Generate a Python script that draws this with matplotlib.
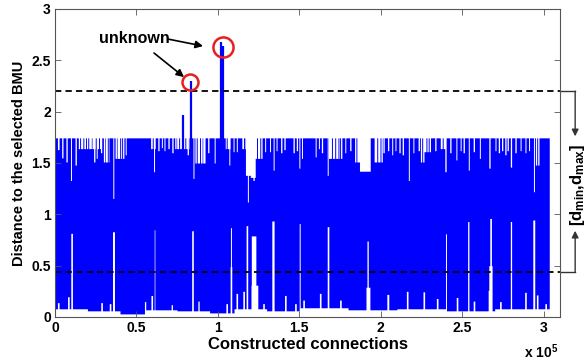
import numpy as np
import matplotlib
matplotlib.use("Agg")
import matplotlib.pyplot as plt
import matplotlib.transforms as mtransforms
from matplotlib.ticker import FormatStrFormatter

plt.rcParams['font.family'] = ['Liberation Sans', 'DejaVu Sans']
plt.rcParams['font.weight'] = 'bold'
plt.rcParams['mathtext.fontset'] = 'custom'
plt.rcParams['mathtext.rm'] = 'Liberation Sans:bold'
plt.rcParams['mathtext.bf'] = 'Liberation Sans:bold'
plt.rcParams['mathtext.it'] = 'Liberation Sans:bold'

# --- values (x in units of 1e5 connections) ---
x_end = 3.035
top_level = 1.745

# stretches where the top of the band sits lower: (x0, x1, level)
plateaus = [(0.143, 0.28, 1.64), (0.297, 0.33, 1.51), (0.369, 0.41, 1.545),
            (0.588, 0.615, 1.64), (0.735, 0.83, 1.64), (0.86, 0.92, 1.50),
            (1.045, 1.075, 1.64), (1.147, 1.167, 1.64), (1.17, 1.20, 1.38),
            (1.20, 1.23, 1.36), (1.23, 1.27, 1.545), (1.68, 1.76, 1.545),
            (1.84, 1.87, 1.51), (1.87, 1.935, 1.42), (1.96, 2.01, 1.51),
            (2.243, 2.265, 1.51), (2.265, 2.305, 1.61), (2.365, 2.395, 1.64),
            (2.95, 2.97, 1.48)]

# thin peaks back up to the top level inside those stretches
top_peaks = [0.154, 0.174, 0.19, 0.205, 0.225, 0.25, 0.27, 0.307, 0.324, 0.379,
             0.4, 0.6, 0.745, 0.762, 0.8, 0.82, 0.87, 0.89, 0.905, 1.055, 1.16,
             1.24, 1.26, 1.7, 1.72, 1.74, 1.75, 1.85, 1.942, 1.977, 1.998,
             2.255, 2.28, 2.295, 2.38, 2.96]

# white notches cut down from the top: (x, lowest value)
notch_x = [0.02, 0.045, 0.072, 0.098, 0.127, 0.242, 0.256, 0.283, 0.358, 0.42,
           0.434, 0.608, 0.635, 0.656, 0.672, 0.697, 0.721, 0.815, 0.85, 0.942,
           0.98, 1.07, 1.096, 1.116, 1.184, 1.219, 1.29, 1.32, 1.342, 1.36,
           1.39, 1.41, 1.465, 1.485, 1.50, 1.516, 1.6, 1.62, 1.64, 1.674,
           1.782, 1.813, 2.018, 2.045, 2.07, 2.09, 2.115, 2.135, 2.172, 2.2,
           2.233, 2.335, 2.397, 2.427, 2.464, 2.49, 2.51, 2.54, 2.571, 2.608,
           2.667, 2.704, 2.725, 2.745, 2.765, 2.78, 2.8, 2.827, 2.858, 2.888,
           2.91, 2.94]
notch_y = [1.63, 1.55, 1.51, 1.33, 1.48, 1.51, 1.545, 1.60, 1.155, 1.545,
           1.58, 1.415, 1.62, 1.65, 1.62, 1.64, 1.60, 1.58, 1.35, 1.60,
           1.50, 1.48, 1.61, 1.61, 1.12, 1.33, 1.61, 1.61, 1.43, 1.62,
           1.60, 1.63, 1.60, 1.62, 1.45, 1.545, 1.56, 1.64, 1.60, 1.38,
           1.60, 1.62, 1.60, 1.62, 1.58, 1.62, 1.60, 1.58, 1.33, 1.60,
           1.62, 1.62, 1.415, 1.60, 1.53, 1.62, 1.60, 1.43, 1.61, 1.545,
           1.45, 1.62, 1.60, 1.62, 1.58, 1.62, 1.46, 1.60, 1.62, 1.60,
           1.62, 1.22]

# bottom of the band
floor_x = [0, 0.2, 0.4, 0.55, 0.75, 0.95, 1.1, 1.3, 1.5, 1.8, 2.1, 2.4, 2.7]
floor_y = [0.08, 0.06, 0.03, 0.07, 0.06, 0.04, 0.08, 0.06, 0.09, 0.07, 0.08, 0.06, 0.08]
bump_x = [0.02, 0.082, 0.287, 0.338, 0.553, 0.594, 0.717, 0.881, 1.055, 1.117,
          1.158, 1.24, 1.28, 1.414, 1.475, 1.526, 1.629, 1.752, 1.926, 2.043,
          2.162, 2.264, 2.346, 2.469, 2.572, 2.664, 2.735, 2.889, 2.961, 3.012]
bump_y = [0.14, 0.197, 0.14, 0.13, 0.15, 0.21, 0.12, 0.155, 0.13, 0.23,
          0.25, 0.31, 0.13, 0.21, 0.13, 0.165, 0.23, 0.165, 0.29, 0.22,
          0.25, 0.245, 0.18, 0.19, 0.155, 0.26, 0.15, 0.24, 0.215, 0.13]

# white gaps rising from the bottom: (x, top value, half width)
gaps = [(0.102, 0.815, 0.005), (0.359, 0.83, 0.006), (0.611, 0.85, 0.003),
        (0.844, 0.84, 0.006), (1.08, 0.87, 0.003), (1.08, 0.49, 0.006),
        (1.178, 0.89, 0.005), (1.219, 0.79, 0.014), (1.222, 0.31, 0.02),
        (1.338, 0.935, 0.007), (1.502, 0.91, 0.004), (1.676, 0.88, 0.005),
        (1.92, 0.74, 0.004), (1.922, 0.29, 0.012), (2.40, 0.81, 0.004),
        (2.537, 0.93, 0.004), (2.674, 0.96, 0.005), (2.674, 0.5, 0.01),
        (2.8, 0.93, 0.004), (2.94, 0.945, 0.006)]

# outliers above the band
outlier_x = [0.787, 0.836, 1.018, 1.03]
outlier_y = [1.97, 2.30, 2.68, 2.64]

d_max = 2.2
d_min = 0.44

# --- band envelopes ---
xs = np.arange(0, x_end + 1e-9, 0.002)
upper = np.full_like(xs, top_level)
for x0, x1, lvl in plateaus:
    upper[(xs >= x0) & (xs <= x1)] = lvl
for px in top_peaks:
    upper[np.abs(xs - px) <= 0.003] = top_level
for nx, ny in zip(notch_x, notch_y):
    m = np.abs(xs - nx) <= 0.004
    upper[m] = np.minimum(upper[m], ny)

lower = np.array(floor_y)[np.searchsorted(floor_x, xs, side='right') - 1]
for bx, by in zip(bump_x, bump_y):
    m = np.abs(xs - bx) <= 0.005
    lower[m] = np.maximum(lower[m], by)
for gx, gy, hw in gaps:
    m = np.abs(xs - gx) <= hw
    lower[m] = np.maximum(lower[m], gy)

fig = plt.figure(figsize=(5.86, 3.63), dpi=100)
ax = fig.add_axes([55 / 586, 46 / 363, 505 / 586, 308 / 363])

blue = '#0000ff'
ax.fill_between(xs, lower, upper, where=upper > lower, step='mid',
                color=blue, linewidth=0)
ax.vlines(outlier_x, 1.6, outlier_y, color=blue, linewidth=1.6)

ax.axhline(d_max, color='k', linestyle=(0, (3.5, 2.3)), linewidth=1.3)
ax.axhline(d_min, color='k', linestyle=(0, (3.5, 2.3)), linewidth=1.3)

ax.set_xlim(0, 3.1)
ax.set_ylim(0, 3)
ax.set_xticks(np.arange(0, 3.01, 0.5))
ax.set_yticks(np.arange(0, 3.01, 0.5))
ax.xaxis.set_major_formatter(FormatStrFormatter('%g'))
ax.yaxis.set_major_formatter(FormatStrFormatter('%g'))
ax.tick_params(direction='in', top=True, right=True, length=4, width=0.6,
               color='#555555', labelsize=10, pad=3)
for sp in ax.spines.values():
    sp.set_color('#555555')
    sp.set_linewidth(0.8)

ax.set_xlabel('Constructed connections', fontsize=12, fontweight='bold', labelpad=1)
ax.set_ylabel('Distance to the selected BMU', fontsize=10.5, fontweight='bold', labelpad=4)
ax.text(0.996, -0.112, r'x 10$^{5}$', transform=ax.transAxes, ha='right',
        va='center', fontsize=10, fontweight='bold')

# unknown markers
red = '#e8201c'
ax.plot([1.030], [2.632], 'o', ms=14.5, mfc='none', mec=red, mew=1.8)
ax.plot([0.829], [2.288], 'o', ms=11.5, mfc='none', mec=red, mew=1.8)
ax.text(0.485, 2.717, 'unknown', ha='center', va='center', fontsize=11.5,
        fontweight='bold')
arrow_kw = dict(arrowstyle='-|>', color='k', lw=1.2, mutation_scale=11,
                shrinkA=0, shrinkB=0)
ax.annotate('', xy=(0.909, 2.639), xytext=(0.694, 2.707), arrowprops=arrow_kw)
ax.annotate('', xy=(0.792, 2.337), xytext=(0.608, 2.571), arrowprops=arrow_kw)

# bracket on the right
blend = mtransforms.blended_transform_factory(ax.transAxes, ax.transData)
bx = 1.03
gray = '#333333'
ax.plot([1.0, bx], [d_max, d_max], color=gray, lw=1.0, transform=blend, clip_on=False)
ax.plot([1.0, bx], [d_min, d_min], color=gray, lw=1.0, transform=blend, clip_on=False)
br_kw = dict(arrowstyle='-|>', color=gray, lw=1.0, mutation_scale=10,
             shrinkA=0, shrinkB=0)
ax.annotate('', xy=(bx, 1.76), xytext=(bx, d_max), xycoords=blend,
            textcoords=blend, arrowprops=br_kw, annotation_clip=False)
ax.annotate('', xy=(bx, 0.84), xytext=(bx, d_min), xycoords=blend,
            textcoords=blend, arrowprops=br_kw, annotation_clip=False)
ax.text(1.034, 1.29, r'[d$_{\mathrm{min}}$,d$_{\mathrm{max}}$]', transform=blend,
        rotation=90, ha='center', va='center', fontsize=12, fontweight='bold')

fig.savefig('out.png', dpi=100)
